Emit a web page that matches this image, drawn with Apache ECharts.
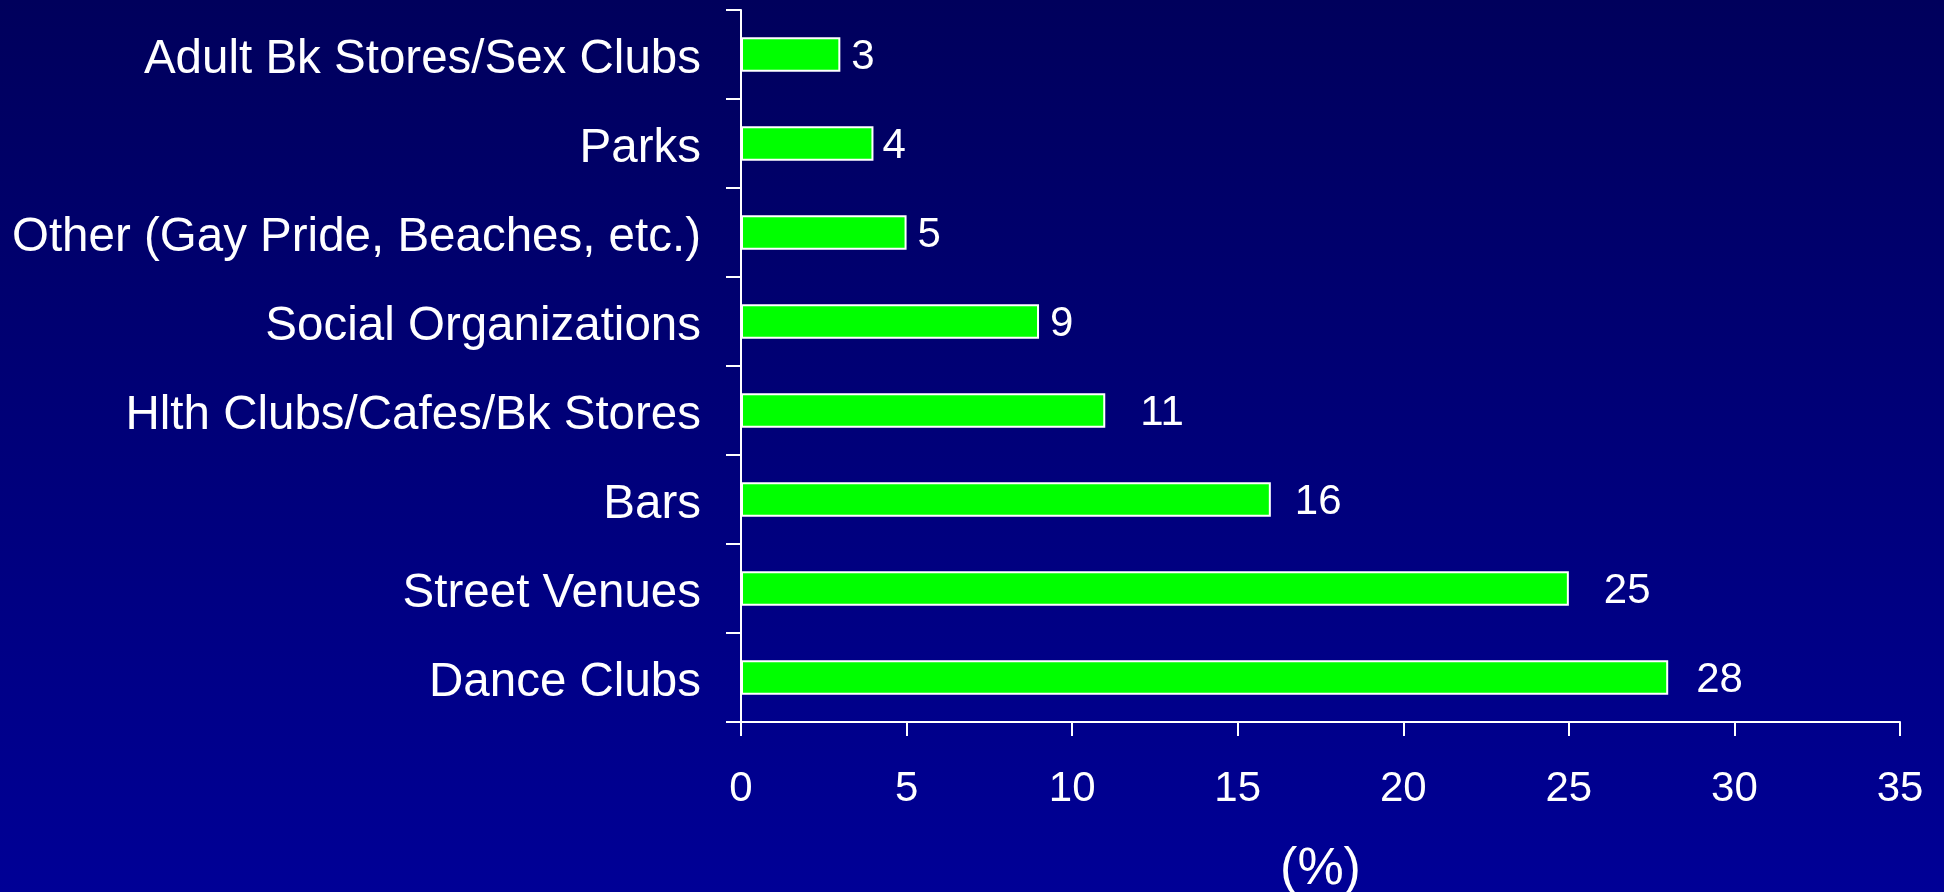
<!DOCTYPE html>
<html>
<head>
<meta charset="utf-8">
<title>Venues</title>
<script src="https://cdn.jsdelivr.net/npm/echarts@6/dist/echarts.min.js"></script>
<style>
  html, body { margin: 0; padding: 0; width: 100%; height: 100%; overflow: hidden; }
  #chart { width: 1944px; height: 892px; }
</style>
</head>
<body>
<div id="chart"></div>
<script>
// Venue categories, listed top to bottom
const categories = [
  'Adult Bk Stores/Sex Clubs',
  'Parks',
  'Other (Gay Pride, Beaches, etc.)',
  'Social Organizations',
  'Hlth Clubs/Cafes/Bk Stores',
  'Bars',
  'Street Venues',
  'Dance Clubs'
];
// Share of respondents per venue (%)
const percents = [3, 4, 5, 9, 11, 16, 25, 28];
// Value axis ticks
const xTicks = [0, 5, 10, 15, 20, 25, 30, 35];
const axisTitle = '(%)';

// Space between each bar end and its value label
const labelGap = [11, 9, 11, 11, 35, 24, 35, 28];

const FONT = '"Liberation Sans", Arial, sans-serif';
const chart = echarts.init(document.getElementById('chart'), null, { renderer: 'canvas' });

chart.setOption({
  backgroundColor: {
    type: 'linear', x: 0, y: 0, x2: 0, y2: 1,
    colorStops: [
      { offset: 0, color: '#00005c' },
      { offset: 1, color: '#000096' }
    ]
  },
  animation: false,
  grid: {
    left: 741, right: 44, top: 10, bottom: 170,
    containLabel: false,
    outerBoundsMode: 'none'
  },
  xAxis: {
    type: 'value',
    min: xTicks[0],
    max: xTicks[xTicks.length - 1],
    interval: xTicks[1] - xTicks[0],
    name: axisTitle,
    nameLocation: 'middle',
    nameGap: 121,
    nameTextStyle: { color: '#ffffff', fontSize: 52, fontFamily: FONT, lineHeight: 54 },
    axisLine: { show: true, lineStyle: { color: '#ffffff', width: 2 } },
    axisTick: { show: true, length: 14, lineStyle: { color: '#ffffff', width: 2 } },
    axisLabel: { color: '#ffffff', fontSize: 42, fontFamily: FONT, margin: 46, lineHeight: 42 },
    splitLine: { show: false }
  },
  yAxis: {
    type: 'category',
    data: categories,
    inverse: true,
    axisLine: { show: true, lineStyle: { color: '#ffffff', width: 2 } },
    axisTick: { show: true, length: 15, alignWithLabel: false, lineStyle: { color: '#ffffff', width: 2 } },
    axisLabel: {
      color: '#ffffff',
      fontFamily: FONT,
      margin: 40,
      formatter: (name) => '{c|' + name + '}',
      rich: {
        c: { color: '#ffffff', fontSize: 47.5, fontFamily: FONT, lineHeight: 50, padding: [10, 0, 0, 0] }
      }
    }
  },
  series: [{
    type: 'bar',
    data: percents.map((v, i) => ({
      value: v,
      label: { distance: labelGap[i] }
    })),
    barWidth: '39%',
    itemStyle: { color: '#00ff00', borderColor: '#ffffff', borderWidth: 2 },
    label: {
      show: true,
      position: 'right',
      color: '#ffffff',
      fontSize: 42,
      fontFamily: FONT,
      offset: [0, 3]
    }
  }]
});
</script>
</body>
</html>
